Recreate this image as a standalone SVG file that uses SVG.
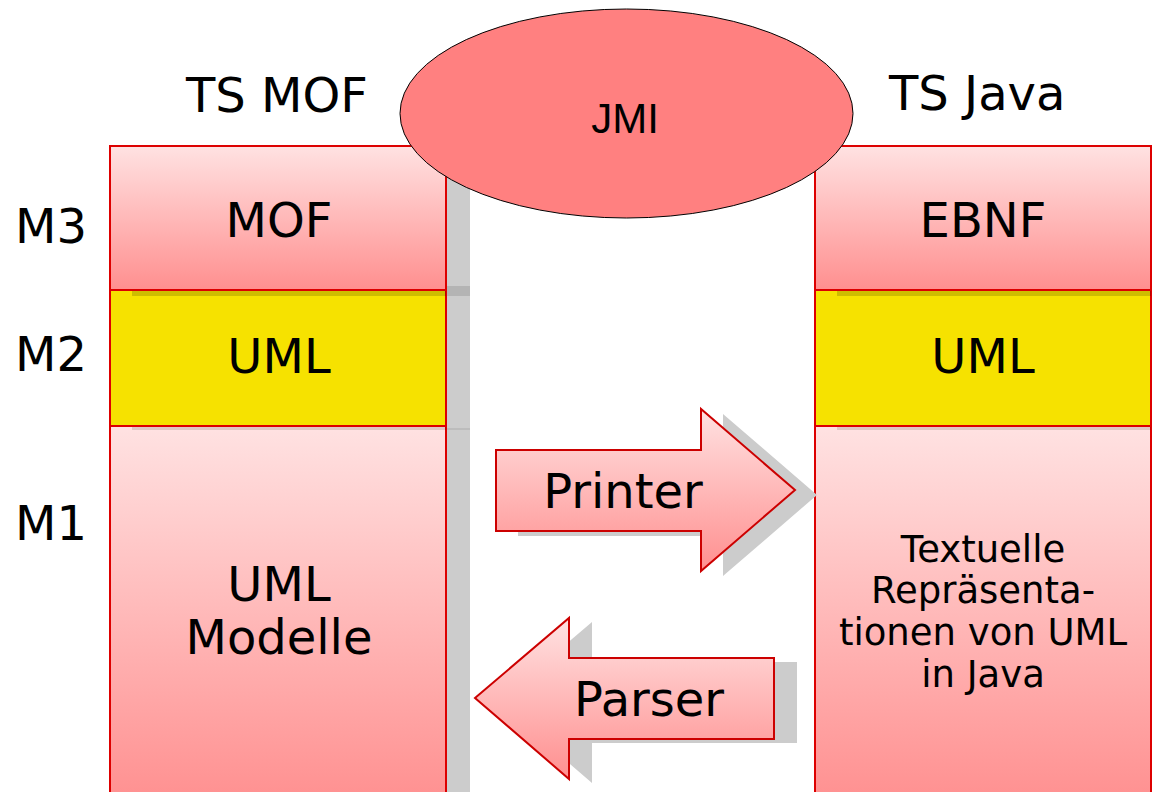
<svg xmlns="http://www.w3.org/2000/svg" width="1154" height="792" viewBox="0 0 1154 792">
  <style>
    .lbl { font-family: "DejaVu Sans", "Verdana", sans-serif; font-size: 48px; fill: #000; }
    .mid { text-anchor: middle; }
    .small { font-size: 37px; }
    .jmi { font-family: "Liberation Sans", Arial, sans-serif; font-size: 42px; fill: #000; text-anchor: middle; }
    .pink { fill: url(#pinkGrad); stroke: #dd0000; stroke-width: 2; }
    .yellow { fill: #f6e200; stroke: #dd0000; stroke-width: 2; }
    .arrow { fill: url(#pinkGrad); stroke: #cc0000; stroke-width: 2; stroke-linejoin: miter; }
    .shadow { fill: #cccccc; }
  </style>
  <defs>
    <linearGradient id="pinkGrad" x1="0" y1="0" x2="0" y2="1">
      <stop offset="0" stop-color="#ffe2e2"/>
      <stop offset="1" stop-color="#ff8f8f"/>
    </linearGradient>
  </defs>
  <rect width="1154" height="792" fill="#ffffff"/>

  <!-- Left column (TS MOF) -->
  <g id="left-shadow">
    <rect x="447" y="152" width="23" height="640" fill="#cccccc"/>
    <rect x="447" y="286" width="23" height="10" fill="#b4b4b4"/>
    <rect x="447" y="428" width="23" height="2" fill="#bcbcbc"/>
  </g>
  <g id="m1-left">
    <rect class="pink" x="110" y="426" width="336" height="380"/>
    <rect x="132" y="427" width="314" height="3" fill="#000" opacity="0.12"/>
    <text class="lbl mid" x="279" y="601">UML</text>
    <text class="lbl mid" x="279" y="654">Modelle</text>
  </g>
  <g id="m2-left">
    <rect class="yellow" x="110" y="290" width="336" height="136"/>
    <rect x="132" y="291" width="314" height="5" fill="#000" opacity="0.16"/>
    <text class="lbl mid" x="279" y="373">UML</text>
  </g>
  <g id="m3-left">
    <rect class="pink" x="110" y="146" width="336" height="144"/>
    <text class="lbl mid" x="279" y="237">MOF</text>
  </g>

  <!-- Right column (TS Java) -->
  <g id="m1-right">
    <rect class="pink" x="815" y="426" width="336" height="380"/>
    <rect x="837" y="427" width="314" height="3" fill="#000" opacity="0.12"/>
    <text class="lbl mid small" x="983" y="562">Textuelle</text>
    <text class="lbl mid small" x="983" y="603">Repräsenta-</text>
    <text class="lbl mid small" x="983" y="645">tionen von UML</text>
    <text class="lbl mid small" x="983" y="687">in Java</text>
  </g>
  <g id="m2-right">
    <rect class="yellow" x="815" y="290" width="336" height="136"/>
    <rect x="837" y="291" width="314" height="5" fill="#000" opacity="0.16"/>
    <text class="lbl mid" x="983" y="373">UML</text>
  </g>
  <g id="m3-right">
    <rect class="pink" x="815" y="146" width="336" height="144"/>
    <text class="lbl mid" x="983" y="237">EBNF</text>
  </g>

  <!-- Headings and level labels -->
  <g id="heading-ts-mof"><text class="lbl" x="186" y="112">TS MOF</text></g>
  <g id="heading-ts-java"><text class="lbl" x="889" y="110">TS Java</text></g>
  <g id="level-m3"><text class="lbl" x="15" y="243">M3</text></g>
  <g id="level-m2"><text class="lbl" x="15" y="371">M2</text></g>
  <g id="level-m1"><text class="lbl" x="15" y="540">M1</text></g>

  <!-- Connectors: Printer and Parser arrows -->
  <g id="connectors">
    <g id="printer">
      <polygon class="shadow" points="518,455 723,455 723,414 817,495 723,576 723,536 518,536"/>
      <polygon class="arrow" points="496,450 701,450 701,409 795,490 701,571 701,531 496,531"/>
      <text class="lbl mid" x="623" y="508">Printer</text>
    </g>
    <g id="parser">
      <polygon class="shadow" points="498,702 592,622 592,662 797,662 797,743 592,743 592,783"/>
      <polygon class="arrow" points="475,698 569,618 569,658 774,658 774,739 569,739 569,779"/>
      <text class="lbl mid" x="649" y="716">Parser</text>
    </g>
  </g>

  <!-- JMI ellipse -->
  <g id="jmi">
    <ellipse cx="626.5" cy="113.5" rx="226.5" ry="104.5" fill="#ff8080" stroke="#000" stroke-width="1"/>
    <text class="jmi" x="625" y="133">JMI</text>
  </g>
</svg>
